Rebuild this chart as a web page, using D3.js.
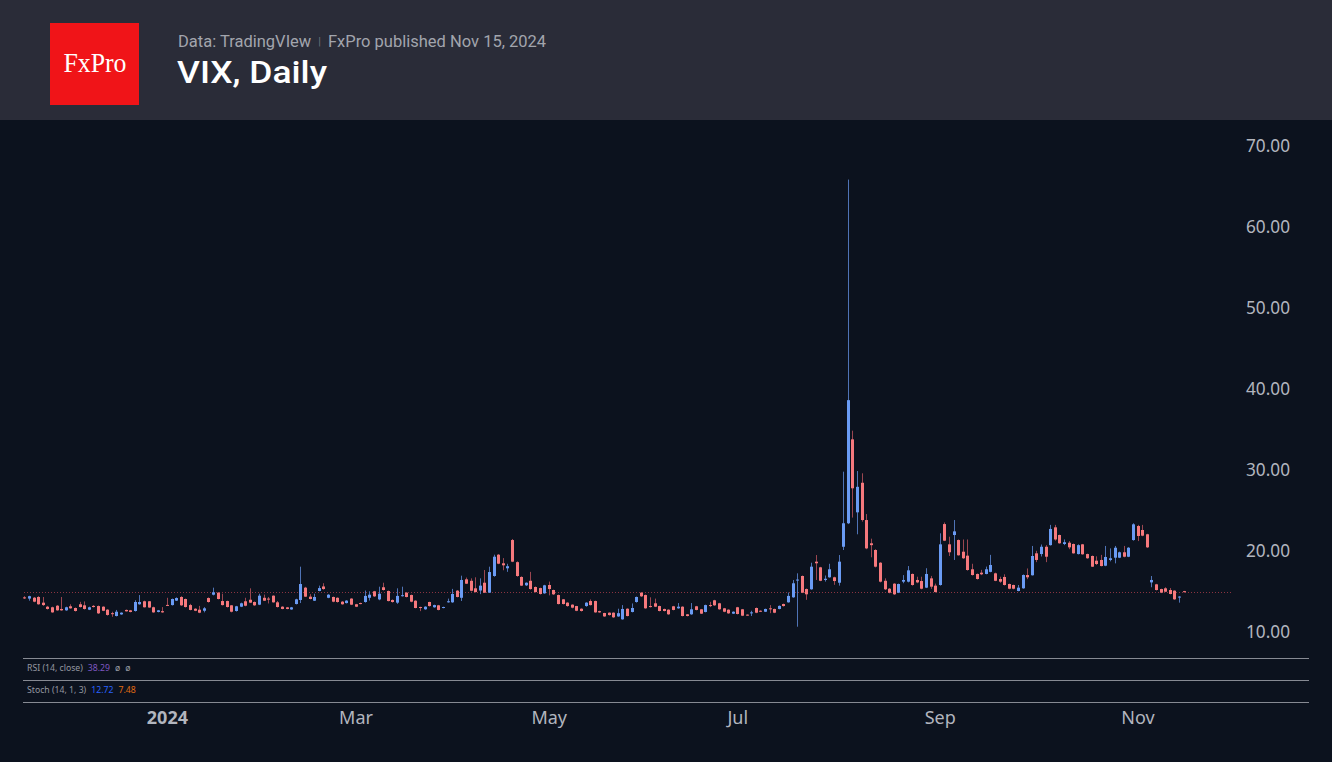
<!DOCTYPE html>
<html><head><meta charset="utf-8">
<script src="https://cdn.jsdelivr.net/npm/d3@7/dist/d3.min.js"></script>
<style>html,body{margin:0;padding:0;background:#0c121e;}svg{display:block}</style>
</head><body><svg id="c" width="1332" height="762"></svg>
<script>
// ---------- DATA ----------
const startDate = "2023-11-15";
const endDate = "2024-11-15";
const holidays = ["2023-11-23","2023-12-25","2024-01-01","2024-01-15","2024-02-19","2024-03-29","2024-05-27","2024-06-19","2024-07-04","2024-09-02"];

const open = [
14.15,14.0,14.11,14.2,13.5,13.0,12.93,13.12,12.72,12.55,
13.05,12.84,13.3,13.17,12.63,13.1,13.08,13.0,12.63,12.2,
11.85,12.05,12.6,12.55,12.47,13.3,13.67,13.67,12.93,12.35,
12.45,13.22,13.2,13.75,14.2,13.95,13.2,12.75,12.63,12.5,
14.07,14.48,14.73,13.7,13.7,13.17,12.47,13.0,13.67,13.86,
13.58,13.25,14.1,14.0,14.36,13.54,13.0,12.92,12.66,13.33,
13.83,15.35,14.24,13.74,14.94,15.5,14.1,14.2,14.1,13.62,
13.45,14.0,13.3,13.45,13.58,14.1,14.9,13.9,15.4,14.94,
13.83,13.5,14.3,14.73,14.44,13.74,12.96,12.68,13.58,12.93,
13.17,12.84,13.54,13.54,14.98,14.1,16.38,16.2,15.27,15.0,
15.96,14.73,16.79,19.42,18.36,17.74,21.23,18.5,16.67,15.64,
16.2,15.43,15.3,14.65,15.68,15.06,14.44,13.91,13.5,13.25,
13.08,12.75,13.08,13.7,13.7,12.45,12.22,12.26,12.26,11.8,
11.44,12.75,12.35,13.58,14.73,14.44,13.08,13.42,13.08,12.72,
12.63,13.05,12.8,13.0,12.06,12.06,13.05,12.68,12.35,13.2,
13.79,13.42,12.8,12.63,12.14,12.93,12.68,12.02,12.2,12.84,
12.5,12.38,12.8,12.72,12.72,13.33,13.54,14.16,16.25,16.79,
15.18,15.15,18.56,17.86,16.3,16.63,16.63,15.96,20.4,23.3,
33.66,24.65,28.3,23.7,20.83,20.0,18.43,16.2,15.22,15.84,
14.73,16.09,16.09,17.04,16.3,16.17,15.35,16.5,15.6,15.68,
23.2,20.7,21.85,21.23,19.79,19.3,17.62,17.04,17.2,17.04,
17.3,17.12,16.42,16.67,15.8,15.68,14.94,15.27,16.91,16.88,
19.59,19.5,20.4,20.6,22.8,21.85,20.74,20.9,20.74,19.5,
20.7,19.5,19.26,18.68,18.77,18.06,18.77,19.05,19.05,19.72,
19.17,21.23,22.96,22.47,21.94,16.0,15.76,15.18,15.27,15.06,
14.98,14.15,14.92
];
const high = [
14.3,14.35,14.2,14.3,14.2,13.1,13.0,13.2,14.2,13.0,
13.3,12.9,13.6,13.65,13.0,13.2,13.15,13.05,12.7,12.38,
12.6,12.3,12.65,12.6,13.8,14.44,13.75,13.7,13.0,12.6,
12.95,14.1,14.0,14.15,14.3,14.0,13.35,12.8,13.1,12.95,
14.15,15.35,14.8,14.6,13.75,13.2,13.1,13.5,14.1,15.27,
13.65,14.6,14.5,14.2,14.4,13.7,13.05,12.97,12.97,13.98,
17.94,15.45,14.55,14.6,15.6,15.9,14.55,14.25,14.15,13.7,
13.8,14.05,13.35,13.5,15.0,14.9,14.95,15.47,15.96,15.0,
13.9,15.27,15.47,14.8,14.5,13.8,13.0,13.05,13.62,13.25,
13.22,13.0,14.0,15.2,15.05,16.83,16.6,16.5,16.63,16.5,
17.53,17.94,19.42,19.5,19.0,18.3,21.36,18.6,16.75,16.0,
17.3,15.5,15.35,15.7,16.1,15.1,14.5,13.95,13.55,13.3,
13.1,12.8,13.55,13.9,13.75,12.5,12.25,12.3,12.3,12.75,
13.2,12.8,13.4,14.25,14.8,14.5,14.16,14.0,13.12,12.76,
12.68,13.1,13.45,13.05,12.1,13.45,13.1,12.72,13.25,13.6,
13.85,13.48,12.85,12.68,12.42,12.98,12.72,12.05,12.5,12.9,
12.55,12.76,13.2,12.76,13.15,13.38,14.75,16.3,17.12,16.85,
15.25,18.43,19.38,17.92,16.85,18.3,16.7,19.38,29.67,65.73,
34.73,29.75,29.47,24.44,21.4,20.1,18.5,16.5,15.3,15.9,
15.85,16.9,18.02,17.1,16.7,16.7,17.75,16.8,15.85,22.06,
23.4,21.64,23.7,21.3,21.3,21.3,18.3,17.1,17.55,17.95,
19.4,17.2,16.7,17.0,15.85,15.72,15.68,16.98,17.72,20.5,
19.9,20.68,20.6,23.1,23.1,21.9,21.3,21.1,20.8,20.7,
20.75,19.55,19.32,19.22,19.4,20.5,20.2,20.5,19.8,20.5,
20.35,23.3,23.1,23.1,22.0,16.79,15.82,15.22,15.4,15.3,
15.03,14.3,14.95
];
const low = [
13.95,13.74,13.55,13.25,13.1,12.65,12.25,12.5,12.5,12.5,
12.75,12.4,12.9,12.65,12.58,12.9,12.1,12.45,11.9,11.75,
11.8,12.0,12.4,12.3,12.4,13.25,12.9,12.85,12.25,12.3,
12.25,13.08,13.15,13.7,13.1,12.9,12.55,12.45,12.2,12.3,
13.5,14.4,13.9,13.15,12.9,12.3,12.4,12.95,13.05,13.45,
13.1,13.2,13.7,13.4,13.5,12.9,12.68,12.68,12.62,13.28,
13.45,14.2,13.9,13.7,14.9,15.1,14.05,13.55,13.5,13.25,
13.4,13.2,12.95,13.3,13.5,13.76,14.2,13.8,15.0,13.65,
13.5,13.35,14.25,14.15,13.55,12.8,12.45,12.62,13.02,12.88,
12.55,12.8,13.5,13.48,14.15,13.7,15.8,14.9,14.75,14.55,
14.7,14.7,16.7,18.25,17.5,17.3,18.5,16.7,15.55,15.55,
15.1,14.75,14.5,14.6,14.4,14.45,13.28,13.28,13.0,12.8,
12.45,12.4,13.0,13.15,12.25,12.25,11.75,11.9,11.62,11.75,
11.4,11.8,12.3,13.5,14.2,12.75,12.9,12.95,12.42,12.42,
12.0,12.55,12.75,11.8,11.8,12.0,12.55,12.1,12.3,12.95,
13.1,12.62,12.32,12.12,12.1,12.05,11.84,11.9,11.85,12.2,
12.35,12.34,12.2,12.2,12.68,13.02,13.5,14.1,10.53,14.68,
13.85,15.1,16.3,16.15,16.1,16.58,15.7,15.6,20.0,23.2,
24.0,21.94,23.5,20.1,19.1,17.85,16.0,15.06,14.65,14.45,
14.68,15.9,16.0,15.6,15.9,15.15,15.3,15.2,14.75,15.6,
21.1,19.26,18.77,19.3,18.9,17.45,16.85,16.35,16.9,17.0,
17.25,16.15,15.95,15.62,15.15,15.15,14.9,15.22,16.4,16.85,
18.5,19.2,18.5,20.55,21.15,20.78,20.6,20.1,19.55,19.45,
19.42,18.92,17.9,18.15,17.98,18.0,18.6,18.35,19.0,19.1,
19.12,21.15,21.1,21.7,20.25,15.4,15.0,14.68,14.8,14.52,
13.85,13.5,14.75
];
const close = [
14.05,14.3,13.62,13.3,13.2,12.72,12.3,12.55,12.55,12.93,
12.8,12.47,12.96,12.72,12.93,12.96,12.18,12.5,11.98,12.15,
12.38,12.26,12.43,12.35,13.58,13.58,12.93,12.9,12.3,12.55,
12.3,13.17,13.95,14.07,13.17,12.96,12.6,12.5,12.26,12.8,
13.58,14.78,13.95,13.2,12.96,12.38,13.05,13.42,13.12,13.5,
13.17,14.36,13.74,13.88,13.54,12.96,12.72,12.72,12.92,13.91,
15.8,14.24,13.95,14.2,15.3,15.18,14.48,13.62,13.58,13.3,
13.75,13.25,13.0,13.4,14.33,14.48,14.28,14.6,15.06,13.7,
13.58,14.33,14.42,14.2,13.62,12.84,12.84,13.0,13.08,13.2,
12.6,12.96,13.67,14.57,14.2,16.3,15.84,14.97,14.81,15.6,
14.73,17.28,19.17,18.31,18.11,18.0,18.56,16.79,15.6,15.96,
15.18,14.81,14.57,15.64,15.18,14.53,13.33,13.33,13.08,12.88,
12.5,12.47,13.5,13.2,12.3,12.3,11.8,11.97,11.69,12.2,
12.72,11.85,12.84,14.2,14.28,12.8,12.96,13.0,12.47,12.47,
12.06,12.6,13.0,11.85,11.85,12.68,12.6,12.14,13.2,13.1,
13.17,12.68,12.38,12.18,12.38,12.1,11.89,11.98,12.3,12.26,
12.4,12.72,12.7,12.26,13.1,13.08,14.33,15.89,16.35,14.73,
14.53,17.94,18.36,16.2,16.45,17.62,16.17,18.56,23.3,38.5,
27.62,27.8,23.7,20.2,20.6,17.94,16.09,15.15,14.73,14.53,
15.8,16.3,17.49,15.68,16.0,15.22,17.04,15.47,14.81,20.7,
21.15,19.72,22.3,19.35,18.98,17.53,16.91,16.42,17.0,17.62,
18.15,16.2,16.09,15.68,15.22,15.22,15.35,16.91,16.63,19.26,
18.77,20.4,19.17,22.6,21.3,20.83,20.96,20.33,19.59,20.6,
19.47,18.98,17.94,18.27,18.02,19.14,18.98,20.28,19.72,19.17,
20.28,23.17,21.73,21.77,20.33,16.3,15.06,14.73,14.85,14.57,
13.91,14.25,14.8
];

const yTicks = [10,20,30,40,50,60,70];
const xTickDates = ["2024-01-02","2024-03-01","2024-05-01","2024-07-01","2024-09-03","2024-11-01"];
const xTickLabels = ["2024","Mar","May","Jul","Sep","Nov"];

// ---------- trading calendar ----------
const fmt = d3.utcFormat("%Y-%m-%d");
const parse = d3.utcParse("%Y-%m-%d");
const hol = new Set(holidays);
const dates = d3.utcDays(parse(startDate), d3.utcDay.offset(parse(endDate), 1))
  .filter(d => d.getUTCDay() !== 0 && d.getUTCDay() !== 6 && !hol.has(fmt(d)))
  .map(fmt);

const candles = dates.map((d, i) => ({date: d, o: open[i], h: high[i], l: low[i], c: close[i]}))
  .filter(d => d.o !== undefined);

// ---------- drawing ----------
const W = 1332, H = 762;
const svg = d3.select("#c");

svg.append("rect").attr("width", W).attr("height", H).attr("fill", "#0c121e");
svg.append("rect").attr("width", W).attr("height", 120).attr("fill", "#2a2c38");

// logo
svg.append("rect").attr("x", 50).attr("y", 23).attr("width", 89).attr("height", 82).attr("fill", "#f01418");
svg.append("text").attr("x", 63.5).attr("y", 72)
  .attr("font-family", "Liberation Serif, serif").attr("font-size", 27).attr("fill", "#ffffff")
  .attr("textLength", 63).attr("lengthAdjust", "spacingAndGlyphs")
  .text("FxPro");

const sub = svg.append("text").attr("x", 178).attr("y", 47)
  .attr("font-family", "Roboto, sans-serif").attr("font-size", 16.5).attr("fill", "#a2a5ad");
sub.append("tspan").text("Data: TradingVIew");
sub.append("tspan").attr("dx", 7).attr("fill", "#6f727b").attr("font-size", 11).attr("dy", -2).text("|");
sub.append("tspan").attr("dx", 7).attr("dy", 2).text("FxPro published Nov 15, 2024");

svg.append("text").attr("x", 177).attr("y", 83)
  .attr("font-family", "Roboto, sans-serif").attr("font-size", 32).attr("font-weight", 500)
  .attr("textLength", 150).attr("lengthAdjust", "spacingAndGlyphs")
  .attr("fill", "#ffffff").text("VIX, Daily");

// scales
const x = d3.scalePoint().domain(dates).range([24.3, 1183.5]);
const y = d3.scaleLinear().domain([10, 70]).range([631, 145]);

const upBody = "#6a9bf4", dnBody = "#f6797d";
const upWick = "#4f73b5", dnWick = "#9a4650";

// last price dotted line
const last = candles[candles.length - 1];
svg.append("line").attr("x1", 24).attr("x2", 1232)
  .attr("y1", Math.round(y(last.c)) + 0.5).attr("y2", Math.round(y(last.c)) + 0.5)
  .attr("stroke", "#8a3340").attr("stroke-width", 1).attr("stroke-dasharray", "1,2");

const g = svg.append("g");
g.selectAll("line.wick").data(candles).join("line").attr("class", "wick")
  .attr("x1", d => Math.round(x(d.date)) + 0.5).attr("x2", d => Math.round(x(d.date)) + 0.5)
  .attr("y1", d => y(d.h)).attr("y2", d => y(d.l))
  .attr("stroke", d => d.c >= d.o ? upWick : dnWick).attr("stroke-width", 1);

g.selectAll("rect.body").data(candles).join("rect").attr("class", "body")
  .attr("x", d => Math.round(x(d.date)) - 1)
  .attr("width", 3)
  .attr("y", d => y(Math.max(d.o, d.c)))
  .attr("height", d => Math.max(1, Math.abs(y(d.o) - y(d.c))))
  .attr("fill", d => d.c >= d.o ? upBody : dnBody);

// y axis
const yAxis = svg.append("g").attr("transform", "translate(1290,0)")
  .call(d3.axisRight(y).tickValues(yTicks).tickFormat(d3.format(".2f")).tickSize(0).tickPadding(0));
yAxis.select(".domain").remove();
yAxis.selectAll("text").attr("text-anchor", "end").attr("x", 0).attr("dy", "0.36em")
  .attr("font-family", "Noto Sans, sans-serif").attr("font-size", 18.5).attr("fill", "#b2b5be")
  .attr("textLength", 44).attr("lengthAdjust", "spacingAndGlyphs");

// separators
[658, 680, 702].forEach(yy => {
  svg.append("line").attr("x1", 23).attr("x2", 1309).attr("y1", yy + 0.5).attr("y2", yy + 0.5)
    .attr("stroke", "#878a93").attr("stroke-width", 1);
});

// indicator labels
const rsi = svg.append("text").attr("x", 27).attr("y", 671)
  .attr("font-family", "Noto Sans, sans-serif").attr("font-size", 8.7).attr("fill", "#9598a1");
rsi.append("tspan").text("RSI (14, close)");
rsi.append("tspan").attr("dx", 5).attr("fill", "#7e57c2").text("38.29");
rsi.append("tspan").attr("dx", 5).text("ø");
rsi.append("tspan").attr("dx", 5).text("ø");

const st = svg.append("text").attr("x", 27).attr("y", 693)
  .attr("font-family", "Noto Sans, sans-serif").attr("font-size", 8.7).attr("fill", "#9598a1");
st.append("tspan").text("Stoch (14, 1, 3)");
st.append("tspan").attr("dx", 5).attr("fill", "#2962ff").text("12.72");
st.append("tspan").attr("dx", 5).attr("fill", "#e06a12").text("7.48");

// x axis
const xAxis = svg.append("g").attr("transform", "translate(0,718)")
  .call(d3.axisBottom(x).tickValues(xTickDates).tickFormat((d, i) => xTickLabels[i]).tickSize(0).tickPadding(0));
xAxis.select(".domain").remove();
xAxis.selectAll("text").attr("y", 0).attr("dy", "0.36em")
  .attr("font-family", "Noto Sans, sans-serif").attr("font-size", 18).attr("fill", "#b2b5be")
  .attr("font-weight", (d, i) => i === 0 ? 700 : 400);
</script>
</body></html>
